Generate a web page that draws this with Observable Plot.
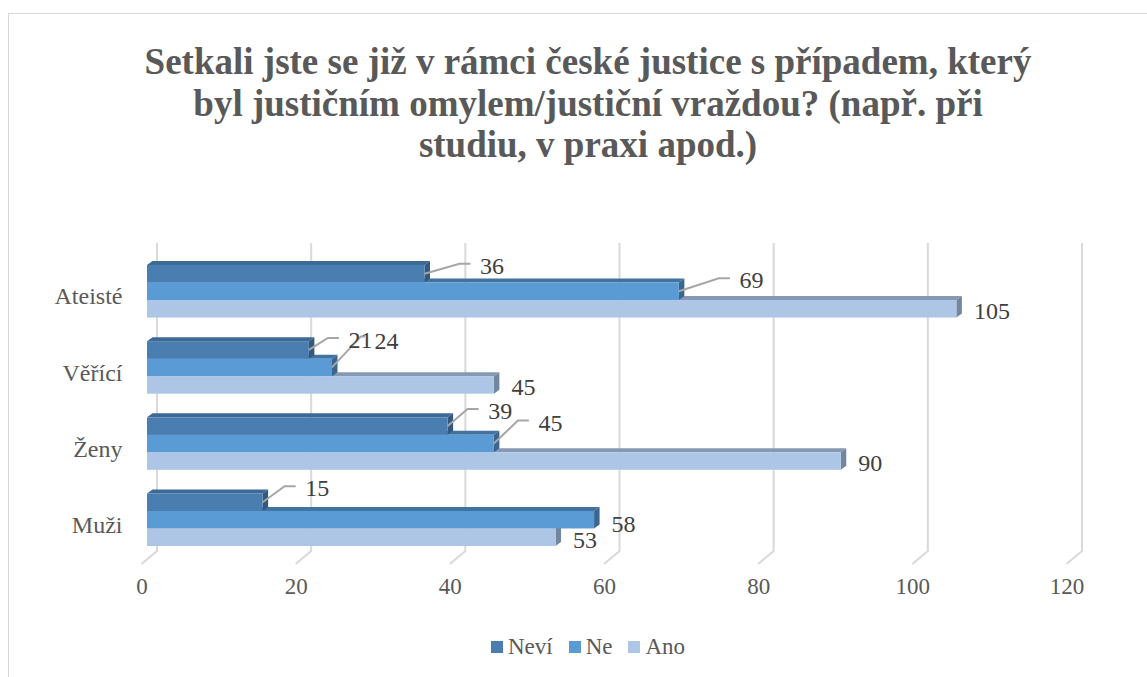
<!DOCTYPE html>
<html>
<head>
<meta charset="utf-8">
<script src="https://cdn.jsdelivr.net/npm/d3@7"></script>
<script src="https://cdn.jsdelivr.net/npm/@observablehq/plot@0.6"></script>
<style>
  html, body { margin: 0; padding: 0; background: #fff; }
  #wrap { position: relative; width: 1147px; height: 677px; overflow: hidden; }
  #frame { position: absolute; left: 8px; top: 13px; width: 1200px; height: 720px; border: 1.5px solid #d9d9d9; box-sizing: border-box; }
  #title { position: absolute; left: 0; top: 41px; width: 1176px; text-align: center; font-weight: bold; font-size: 37px; line-height: 41.5px; color: #595959; }
  #chart { position: absolute; left: 0; top: 200px; }
  #legend { position: absolute; left: 0; width: 1176px; top: 634px; display: flex; justify-content: center; align-items: center; font-size: 23px; color: #595959; line-height: 26px; }
  #legend .item { display: flex; align-items: center; margin: 0 8px; }
  #legend .sw { width: 12px; height: 12px; margin-right: 5px; }
</style>
</head>
<body>
<div id="wrap">
  <div id="frame"></div>
  <div id="title">Setkali jste se již v rámci české justice s případem, který<br>byl justičním omylem/justiční vraždou? (např. při<br>studiu, v praxi apod.)</div>
  <div id="chart"></div>
  <div id="legend"></div>
</div>
<script>
// ---- data ----
const categories = ["Ateisté", "Věřící", "Ženy", "Muži"];
const series = ["Neví", "Ne", "Ano"];
const nevi = [36, 21, 39, 15];
const ne = [69, 24, 45, 58];
const ano = [105, 45, 90, 53];
const xTicks = [0, 20, 40, 60, 80, 100, 120];

// ---- pick an installed serif font ----
function pickFont(cands) {
  const ctx = document.createElement("canvas").getContext("2d");
  const probe = "Setkali jste se již wmWM 0123";
  ctx.font = "40px monospace"; const base = ctx.measureText(probe).width;
  for (const f of cands) {
    ctx.font = `40px "${f}", monospace`;
    if (Math.abs(ctx.measureText(probe).width - base) > 0.5) return f;
  }
  return "serif";
}
const serifFont = pickFont(["Liberation Serif", "Tinos", "Times New Roman", "Times", "Noto Serif", "DejaVu Serif", "FreeSerif"]);
const FONT = `"${serifFont}", serif`;
document.getElementById("wrap").style.fontFamily = FONT;

// ---- styles / layout ----
const frontColors = ["#4a7db0", "#5b9bd5", "#adc6e6"];
const topColors = ["#3c6996", "#42729f", "#8699b3"];
const sideColors = ["#33597f", "#3a6690", "#72869f"];
const W = 1147, H = 410, MT = 52, MB = 51, ML = 147, MR = 75;
const PI = 0.31, PO = 0.171;
const step = (H - MT - MB) / (categories.length - PI + 2 * PO);
const bw = step * (1 - PI);
const barH = bw / 3;
const D = 5.5, E = 4; // depth offset of 3D faces

// label offsets (px) relative to the bar end / row centre
const labelNudge = {
  "Ateisté|Neví": [55, -8, 1], "Ateisté|Ne": [60, -11, 1], "Ateisté|Ano": [17, 2, 0],
  "Věřící|Neví": [39, -10, 1], "Věřící|Ne": [42, -27, 2], "Věřící|Ano": [17, 2, 0],
  "Ženy|Neví": [40, -15, 1], "Ženy|Ne": [44, -21, 1], "Ženy|Ano": [17, 2, 0],
  "Muži|Neví": [42, -14, 1], "Muži|Ne": [17, 4, 0], "Muži|Ano": [17, 3, 0]
};

const valuesBySeries = [nevi, ne, ano];
const rows = [];
series.forEach((s, si) => categories.forEach((c, ci) => rows.push({category: c, series: s, s: si, value: valuesBySeries[si][ci]})));

const gridMark = (index, scales, values, dims) => {
  const g = d3.create("svg:g").attr("fill", "none").attr("stroke", "#d9d9d9").attr("stroke-width", 2);
  const top = dims.marginTop - 9, bot = dims.height - dims.marginBottom - 8;
  for (const v of xTicks) {
    const X = scales.x(v);
    g.append("path").attr("d", `M${X + 10},${top}L${X + 10},${bot}L${X - 5.5},${bot + 13}`);
  }
  return g.node();
};

const facesMark = (index, scales) => {
  const g = d3.create("svg:g");
  const x = scales.x, y = scales.y;
  const bh = (y.bandwidth ? y.bandwidth() : bw) / 3;
  for (const si of [2, 1, 0]) {
    for (const r of rows.filter(r => r.s === si)) {
      const x0 = x(0), x1 = x(r.value);
      const yT = y(r.category) + si * bh, yB = yT + bh;
      g.append("polygon").attr("fill", topColors[si])
        .attr("points", `${x0},${yT} ${x0 + D},${yT - E} ${x1 + D},${yT - E} ${x1},${yT}`);
      g.append("polygon").attr("fill", sideColors[si])
        .attr("points", `${x1},${yT} ${x1 + D},${yT - E} ${x1 + D},${yB - E} ${x1},${yB}`);
    }
  }
  return g.node();
};

const leaderMark = (index, scales) => {
  const g = d3.create("svg:g").attr("fill", "none").attr("stroke", "#a6a6a6").attr("stroke-width", 2);
  const x = scales.x, y = scales.y;
  const b = y.bandwidth ? y.bandwidth() : bw;
  const bh = b / 3;
  for (const r of rows) {
    const [lx, ly, kind] = labelNudge[r.category + "|" + r.series];
    if (!kind) continue;
    const X = x(r.value), Y = y(r.category) + (r.s + 0.5) * bh;
    let ex = lx - 20, ey = ly - 2, hx = lx - 9;
    if (kind === 2) { ex = 29; ey = -31; hx = 33; }
    g.append("path").attr("d", `M${X},${Y}L${X + ex},${Y + ey}L${X + hx},${Y + ey}`);
  }
  return g.node();
};

const frontMarks = [0, 1, 2].map(si => Plot.barX(rows.filter(r => r.s === si), {
  x1: () => 0, x2: "value", y: "category", fill: frontColors[si],
  insetTop: si * barH, insetBottom: (2 - si) * barH
}));

const labelMarks = rows.map(r => {
  const [lx, ly] = labelNudge[r.category + "|" + r.series];
  return Plot.text([r], {
    x: "value", y: "category", text: d => String(d.value),
    dx: lx, dy: (r.s - 1) * barH + ly, textAnchor: "start",
    fontSize: 24, fill: "#404040", fontFamily: FONT
  });
});

const chart = Plot.plot({
  width: W, height: H,
  marginTop: MT, marginBottom: MB, marginLeft: ML, marginRight: MR,
  style: {fontFamily: FONT, background: "transparent", overflow: "visible"},
  x: {domain: [0, 120], axis: null},
  y: {domain: categories, paddingInner: PI, paddingOuter: PO, round: false, axis: null},
  marks: [
    gridMark,
    facesMark,
    ...frontMarks,
    leaderMark,
    Plot.text(xTicks, {x: d => d, frameAnchor: "bottom", dy: 34, dx: -5.5, text: d => String(d), fontSize: 23, fill: "#595959", fontFamily: FONT}),
    Plot.text(categories, {y: d => d, frameAnchor: "left", dx: -25, dy: 5, textAnchor: "end", text: d => d, fontSize: 24, fill: "#595959", fontFamily: FONT}),
    ...labelMarks
  ]
});
document.getElementById("chart").appendChild(chart);

const legend = document.getElementById("legend");
series.forEach((s, i) => {
  const it = document.createElement("div");
  it.className = "item";
  it.innerHTML = `<span class="sw" style="background:${frontColors[i]}"></span><span>${s}</span>`;
  legend.appendChild(it);
});
</script>
</body>
</html>
